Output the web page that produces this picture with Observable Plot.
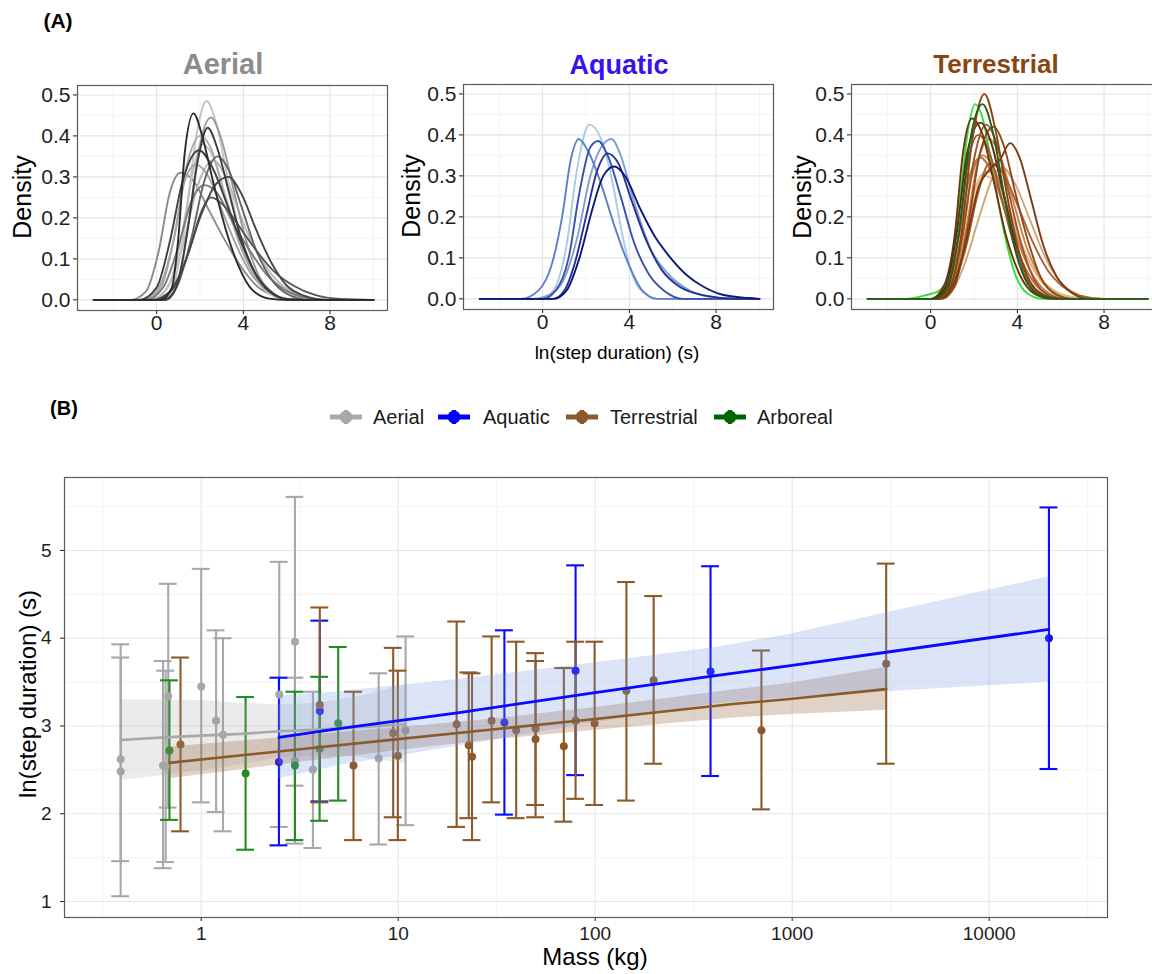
<!DOCTYPE html>
<html><head><meta charset="utf-8">
<script src="https://cdn.jsdelivr.net/npm/d3@7"></script>
<script src="https://cdn.jsdelivr.net/npm/@observablehq/plot@0.6"></script>
<style>
html,body{margin:0;padding:0;background:#fff;overflow:hidden;}
#root{position:relative;width:1152px;height:974px;overflow:hidden;font-family:"Liberation Sans",Arial,sans-serif;}
.t{position:absolute;white-space:nowrap;line-height:1;}
</style></head><body><div id="root"></div>
<script>
// ---------------- DATA ----------------
// Panel A: density curves of ln(step duration) — [x, density] points
const densityXTicks = [0, 4, 8];
const densityXMinor = [-2, 2, 6, 10];
const densityYTicks = [0, 0.1, 0.2, 0.3, 0.4, 0.5];
const densityYMinor = [0.05, 0.15, 0.25, 0.35, 0.45];

const aerialCurves = [
  [[-2.9,0],[-1.2,0],[-0.5,0.02],[0.1,0.12],[0.6,0.26],[1.1,0.31],[1.7,0.29],[2.4,0.22],[3.1,0.15],[3.9,0.08],[4.7,0.03],[5.6,0.008],[6.6,0],[10,0]],
  [[-2.9,0],[-0.3,0],[0.5,0.03],[1.2,0.13],[1.9,0.28],[2.6,0.34],[3.2,0.3],[3.9,0.2],[4.7,0.11],[5.5,0.05],[6.4,0.015],[7.5,0],[10,0]],
  [[-2.9,0],[0.2,0],[0.8,0.04],[1.3,0.18],[1.8,0.39],[2.3,0.485],[2.8,0.42],[3.3,0.29],[3.9,0.15],[4.5,0.06],[5.2,0.015],[6,0],[10,0]],
  [[-2.9,0],[-0.2,0],[0.6,0.04],[1.2,0.17],[1.7,0.32],[2.1,0.38],[2.6,0.35],[3.2,0.25],[3.9,0.13],[4.6,0.05],[5.4,0.012],[6.3,0],[10,0]],
  [[-2.9,0],[-0.6,0],[0.2,0.03],[0.8,0.15],[1.4,0.33],[2.0,0.40],[2.5,0.37],[3.1,0.26],[3.8,0.14],[4.5,0.06],[5.3,0.015],[6.2,0],[10,0]],
  [[-2.9,0],[-0.7,0],[0.1,0.03],[0.8,0.15],[1.3,0.29],[1.8,0.33],[2.4,0.3],[3.0,0.22],[3.7,0.13],[4.4,0.06],[5.2,0.02],[6.1,0],[10,0]],
  [[-2.9,0],[0.4,0],[1.0,0.04],[1.5,0.2],[2.0,0.38],[2.5,0.445],[3.0,0.39],[3.5,0.28],[4.1,0.15],[4.7,0.06],[5.4,0.015],[6.2,0],[10,0]],
  [[-2.9,0],[-0.5,0],[0.3,0.03],[1.0,0.13],[1.6,0.24],[2.2,0.28],[2.8,0.26],[3.5,0.19],[4.3,0.12],[5.1,0.06],[5.9,0.025],[6.8,0.006],[8,0],[10,0]],
  [[-2.9,0],[0.3,0],[1.0,0.04],[1.6,0.15],[2.2,0.29],[2.8,0.35],[3.3,0.32],[3.9,0.23],[4.6,0.12],[5.3,0.05],[6.0,0.015],[7,0],[10,0]],
  [[-2.9,0],[0,0],[0.8,0.03],[1.5,0.12],[2.1,0.22],[2.5,0.25],[3.1,0.23],[3.8,0.18],[4.6,0.12],[5.4,0.07],[6.3,0.035],[7.3,0.012],[8.5,0.002],[10,0]],
  [[-2.9,0],[-0.8,0],[0,0.03],[0.6,0.14],[1.2,0.29],[1.95,0.365],[2.6,0.32],[3.2,0.24],[3.9,0.14],[4.6,0.06],[5.4,0.015],[6.2,0],[10,0]],
  [[-2.9,0],[-0.2,0],[0.6,0.02],[1.3,0.09],[2.0,0.2],[2.7,0.28],[3.3,0.30],[3.9,0.26],[4.6,0.17],[5.3,0.09],[6.0,0.035],[6.8,0.01],[7.8,0],[10,0]],
  [[-2.9,0],[0.4,0],[0.9,0.03],[1.4,0.16],[1.9,0.34],[2.35,0.42],[2.8,0.37],[3.3,0.27],[3.9,0.15],[4.5,0.07],[5.2,0.02],[6,0.002],[7,0],[10,0]],
  [[-2.9,0],[0.2,0],[0.7,0.03],[1.0,0.15],[1.3,0.36],[1.7,0.455],[2.1,0.4],[2.6,0.29],[3.2,0.17],[3.8,0.08],[4.4,0.025],[5.2,0.003],[6,0],[10,0]]
];
const aerialShades = ["#8a8a8a","#b8b8b8","#c4c4c4","#bdbdbd","#ababab","#a3a3a3","#9a9a9a","#7a7a7a","#666666","#555555","#404040","#474747","#3c3c3c","#2b2b2b"];

const aquaticCurves = [
  [[-2.9,0],[0,0],[0.6,0.03],[1.1,0.13],[1.6,0.32],[2.15,0.425],[2.7,0.39],[3.2,0.29],[3.7,0.15],[4.2,0.05],[4.8,0.01],[5.3,0],[10,0]],
  [[-2.9,0],[-0.5,0],[0.3,0.01],[1.0,0.05],[1.6,0.15],[2.2,0.3],[2.7,0.37],[3.18,0.39],[3.6,0.35],[4.2,0.24],[5.0,0.12],[5.8,0.06],[6.8,0.02],[8,0.003],[10,0]],
  [[-2.9,0],[-1,0],[-0.2,0.02],[0.4,0.08],[0.9,0.2],[1.3,0.34],[1.67,0.39],[2.1,0.36],[2.7,0.28],[3.3,0.18],[4,0.08],[4.6,0.02],[5.3,0],[10,0]],
  [[-2.9,0],[0,0],[0.6,0.02],[1.2,0.1],[1.7,0.26],[2.2,0.37],[2.56,0.385],[3,0.35],[3.6,0.25],[4.2,0.14],[4.9,0.06],[5.6,0.02],[6.5,0],[10,0]],
  [[-2.9,0],[0.5,0],[1,0.02],[1.5,0.09],[2,0.2],[2.5,0.31],[3,0.355],[3.5,0.33],[4.1,0.24],[4.8,0.14],[5.5,0.07],[6.3,0.03],[7.5,0.008],[9,0],[10,0]],
  [[-2.9,0],[0.5,0],[1.1,0.02],[1.7,0.1],[2.3,0.22],[2.8,0.3],[3.3,0.323],[3.8,0.3],[4.5,0.22],[5.2,0.15],[5.9,0.1],[6.6,0.06],[7.4,0.03],[8.3,0.01],[9.5,0.002],[10,0]]
];
const aquaticShades = ["#a8cbe6","#7f9fd3","#5d80c8","#3d4fae","#262f96","#0d1a7a"];

const terrestrialCurves = [
  [[-2.9,0],[-1.2,0],[-0.3,0.008],[0.4,0.02],[0.9,0.07],[1.4,0.27],[1.75,0.42],[2.06,0.475],[2.4,0.44],[2.9,0.3],[3.4,0.16],[3.9,0.06],[4.5,0.012],[5.2,0],[10,0]],
  [[-2.9,0],[0.2,0],[0.9,0.03],[1.5,0.12],[2.0,0.24],[2.45,0.30],[2.9,0.29],[3.5,0.22],[4.2,0.13],[4.9,0.06],[5.7,0.02],[6.6,0.004],[7.5,0],[10,0]],
  [[-2.9,0],[0.3,0],[0.9,0.03],[1.5,0.13],[2.0,0.26],[2.56,0.31],[3.1,0.29],[3.7,0.21],[4.3,0.12],[5.0,0.05],[5.7,0.015],[6.5,0],[10,0]],
  [[-2.9,0],[0.4,0],[1.0,0.02],[1.6,0.09],[2.3,0.21],[2.9,0.3],[3.33,0.32],[3.9,0.28],[4.6,0.19],[5.3,0.1],[6.0,0.04],[6.8,0.01],[7.6,0],[10,0]],
  [[-2.9,0],[0.4,0],[1.0,0.03],[1.6,0.16],[2.2,0.34],[2.7,0.39],[3.2,0.35],[3.8,0.24],[4.4,0.13],[5.1,0.05],[5.8,0.012],[6.6,0],[10,0]],
  [[-2.9,0],[0.2,0],[0.8,0.03],[1.4,0.15],[1.9,0.3],[2.4,0.35],[2.9,0.32],[3.5,0.23],[4.1,0.13],[4.8,0.05],[5.5,0.012],[6.3,0],[10,0]],
  [[-2.9,0],[0.1,0],[0.7,0.03],[1.3,0.15],[1.8,0.3],[2.3,0.345],[2.8,0.31],[3.4,0.22],[4.0,0.12],[4.7,0.045],[5.4,0.01],[6.2,0],[10,0]],
  [[-2.9,0],[0.3,0],[1.0,0.03],[1.6,0.12],[2.2,0.26],[2.7,0.33],[3.3,0.31],[4.0,0.23],[4.7,0.14],[5.4,0.07],[6.1,0.03],[6.9,0.008],[8,0],[10,0]],
  [[-2.9,0],[0.3,0],[0.9,0.03],[1.5,0.16],[2.0,0.34],[2.56,0.425],[3.1,0.37],[3.6,0.26],[4.2,0.13],[4.8,0.045],[5.5,0.008],[6.2,0],[10,0]],
  [[-2.9,0],[0.2,0],[0.8,0.03],[1.3,0.16],[1.75,0.34],[2.2,0.40],[2.7,0.36],[3.2,0.26],[3.8,0.14],[4.4,0.05],[5.1,0.01],[5.9,0],[10,0]],
  [[-2.9,0],[0.5,0],[1.1,0.03],[1.7,0.17],[2.3,0.36],[2.9,0.42],[3.4,0.37],[3.9,0.26],[4.5,0.14],[5.1,0.05],[5.8,0.01],[6.6,0],[10,0]],
  [[-2.9,0],[0,0],[0.6,0.03],[1.1,0.15],[1.5,0.36],[1.9,0.44],[2.4,0.4],[2.9,0.29],[3.5,0.15],[4.1,0.06],[4.8,0.012],[5.6,0],[10,0]],
  [[-2.9,0],[0.1,0],[0.7,0.03],[1.2,0.16],[1.7,0.36],[2.3,0.43],[2.8,0.38],[3.3,0.27],[3.9,0.14],[4.5,0.05],[5.2,0.01],[6,0],[10,0]],
  [[-2.9,0],[0.4,0],[1.0,0.03],[1.6,0.13],[2.2,0.27],[2.8,0.32],[3.2,0.34],[3.67,0.38],[4.1,0.345],[4.6,0.25],[5.2,0.13],[5.8,0.055],[6.5,0.015],[7.3,0],[10,0]],
  [[-2.9,0],[0.3,0],[0.9,0.03],[1.4,0.15],[1.9,0.38],[2.48,0.50],[3.0,0.41],[3.5,0.26],[4.0,0.13],[4.6,0.04],[5.3,0.006],[6,0],[10,0]],
  [[-2.9,0],[0.2,0],[0.8,0.03],[1.3,0.16],[1.8,0.38],[2.4,0.475],[2.9,0.4],[3.4,0.25],[3.9,0.12],[4.5,0.035],[5.2,0.005],[6,0],[10,0]]
];
const terrestrialShades = ["#33dd33","#e3b98a","#deb887","#d4a373","#cd853f","#c17f4a","#b87333","#a86236","#a0522d","#9c5a2a","#8b4a1c","#6e3510","#5c2e0e","#7a3a12","#8b4513","#1f5f1f"];

// Panel B: [mass (kg), mean ln(step duration), lower, upper]
const aerialPts = [
  [0.39,2.48,1.06,3.93],[0.39,2.62,1.46,3.78],[0.64,2.55,1.38,3.74],[0.66,2.54,1.45,3.63],
  [0.68,3.34,2.07,4.62],[1.0,3.45,2.13,4.79],[1.19,3.06,2.02,4.09],[1.29,2.90,1.80,4.00],
  [2.49,3.36,1.85,4.87],[2.99,3.96,2.32,5.61],[2.99,2.60,1.66,3.55],[3.69,2.50,1.61,3.39],
  [7.96,2.63,1.65,3.60],[10.9,2.95,1.87,4.02]
];
const aquaticPts = [
  [2.48,2.59,1.64,3.55],[4.0,3.17,2.14,4.20],[34.6,3.04,1.99,4.09],
  [79.5,3.63,2.44,4.83],[385,3.62,2.43,4.82],[20100,4.00,2.51,5.49]
];
const terrestrialPts = [
  [0.785,2.79,1.80,3.78],[4.0,3.24,2.13,4.35],[5.93,2.55,1.70,3.39],[9.43,2.92,1.96,3.89],
  [9.96,2.66,1.70,3.63],[19.8,3.02,1.85,4.19],[22.8,2.78,1.95,3.61],[23.7,2.65,1.70,3.60],
  [29.8,3.06,2.13,4.02],[39.7,2.95,1.95,3.96],[49.8,2.97,2.10,3.83],[49.8,2.85,1.96,3.74],
  [69.3,2.77,1.91,3.66],[79.5,3.06,2.17,3.96],[99.3,3.03,2.10,3.96],[144,3.40,2.15,4.64],
  [198,3.52,2.57,4.48],[698,2.95,2.05,3.86],[3000,3.71,2.57,4.85]
];
const arborealPts = [
  [0.69,2.72,1.93,3.52],[1.68,2.46,1.59,3.33],[2.99,2.55,1.70,3.39],[3.99,2.74,1.92,3.56],[4.96,3.03,2.15,3.90]
];

// fitted lines with confidence band: [mass, fit, lower, upper]
const aerialFit = [
  [0.39,2.84,2.38,3.30],[0.65,2.87,2.44,3.30],[1,2.89,2.49,3.29],[1.6,2.91,2.56,3.26],
  [2.5,2.94,2.64,3.24],[4,2.96,2.66,3.26],[6.5,2.99,2.64,3.34],[10.9,3.02,2.57,3.47]
];
const aquaticFit = [
  [2.48,2.87,2.40,3.34],[5,2.97,2.55,3.39],[20,3.15,2.77,3.53],[100,3.38,3.04,3.72],
  [400,3.57,3.25,3.89],[1000,3.69,3.33,4.05],[3000,3.84,3.39,4.29],[20100,4.10,3.50,4.70]
];
const terrestrialFit = [
  [0.69,2.58,2.40,2.76],[3,2.73,2.58,2.88],[10,2.85,2.72,2.98],[30,2.96,2.84,3.08],
  [100,3.08,2.95,3.21],[500,3.25,3.09,3.41],[1000,3.31,3.13,3.49],[3000,3.42,3.18,3.67]
];

const massTicks = [1, 10, 100, 1000, 10000];
const massMinor = [0.316, 3.16, 31.6, 316, 3162, 31623];
const stepTicks = [1, 2, 3, 4, 5];
const stepMinor = [1.5, 2.5, 3.5, 4.5, 5.5];

const legendLabels = ["Aerial", "Aquatic", "Terrestrial", "Arboreal"];
const groupColors = ["#a8a8a8", "#0a0aff", "#8b5a2b", "#228b22"];
const legendColors = ["#a8a8a8", "#0000ff", "#8b5a2b", "#006400"];

// ---------------- DRAWING ----------------
const root = document.getElementById("root");
const FONT = "'Liberation Sans', Arial, sans-serif";

function addText(txt, x, y, o = {}) {
  const d = document.createElement("div");
  d.className = "t";
  d.textContent = txt;
  d.style.left = x + "px";
  d.style.top = y + "px";
  d.style.fontSize = (o.size || 16) + "px";
  d.style.fontWeight = o.weight || "normal";
  d.style.color = o.color || "#000";
  d.style.fontFamily = FONT;
  const tr = o.anchor === "start" ? "translate(0,-50%)" : "translate(-50%,-50%)";
  d.style.transform = tr + (o.rotate ? " rotate(-90deg)" : "");
  root.appendChild(d);
  return d;
}

function place(svg, left, top) {
  svg.style.position = "absolute";
  svg.style.left = left + "px";
  svg.style.top = top + "px";
  root.appendChild(svg);
}

function densityPanel(curves, shades, left, top) {
  const marks = [
    Plot.ruleX(densityXMinor, {stroke: "#f1f1f1", strokeWidth: 0.8}),
    Plot.ruleY(densityYMinor, {stroke: "#f1f1f1", strokeWidth: 0.8}),
    Plot.ruleX(densityXTicks, {stroke: "#e4e4e4", strokeWidth: 1.1}),
    Plot.ruleY(densityYTicks, {stroke: "#e4e4e4", strokeWidth: 1.1}),
    ...curves.map((c, i) => Plot.line(c, {x: d => d[0], y: d => d[1], stroke: shades[i], strokeWidth: 1.9, curve: "monotone-x"})),
    Plot.frame({stroke: "#5a5a5a", strokeWidth: 1.2})
  ];
  const svg = Plot.plot({
    width: 390, height: 300,
    marginLeft: 77, marginRight: 3, marginTop: 45, marginBottom: 30,
    x: {domain: [-3.65, 10.65], ticks: densityXTicks, tickSize: 4, tickPadding: 1, label: null},
    y: {domain: [-0.026, 0.523], ticks: densityYTicks, tickSize: 4, tickPadding: 3, tickFormat: d3.format(".1f"), label: null},
    style: {fontSize: "21px", fontFamily: FONT, color: "#1e1e1e", background: "transparent", overflow: "visible"},
    marks
  });
  place(svg, left, top);
}

densityPanel(aerialCurves, aerialShades, 0, 40);
densityPanel(aquaticCurves, aquaticShades, 386, 39);
densityPanel(terrestrialCurves, terrestrialShades, 774, 39);

addText("(A)", 58, 20, {size: 21, weight: "bold"});
addText("Aerial", 223, 64, {size: 29, weight: "bold", color: "#8c8c8c"});
addText("Aquatic", 619, 65, {size: 27, weight: "bold", color: "#3a10f0"});
addText("Terrestrial", 996, 64, {size: 26, weight: "bold", color: "#8b4513"});
addText("Density", 22, 197, {size: 25, rotate: true});
addText("Density", 411, 196, {size: 25, rotate: true});
addText("Density", 802, 197, {size: 25, rotate: true});
addText("ln(step duration) (s)", 617, 352, {size: 19});

// Panel B
addText("(B)", 64, 408, {size: 20, weight: "bold"});

// legend
const keyX = [346, 454, 582, 730];
const labX = [373, 483, 610, 757];
legendLabels.forEach((lab, i) => {
  const ns = "http://www.w3.org/2000/svg";
  const s = document.createElementNS(ns, "svg");
  s.setAttribute("width", 36); s.setAttribute("height", 20);
  s.style.position = "absolute";
  s.style.left = (keyX[i] - 18) + "px";
  s.style.top = (417 - 10) + "px";
  const c = legendColors[i];
  s.innerHTML = `<line x1="2" x2="34" y1="10" y2="10" stroke="${c}" stroke-width="5"/>
    <line x1="18" x2="18" y1="3" y2="17" stroke="${c}" stroke-width="4"/>
    <circle cx="18" cy="10" r="6.5" fill="${c}"/>`;
  root.appendChild(s);
  addText(lab, labX[i], 417, {size: 20, anchor: "start", color: "#1a1a1a"});
});

const capF = 1.11;
const groupsPts = [aerialPts, aquaticPts, terrestrialPts, arborealPts];
const bMarks = [
  Plot.ruleX(massMinor, {stroke: "#f1f1f1", strokeWidth: 0.8}),
  Plot.ruleY(stepMinor, {stroke: "#f1f1f1", strokeWidth: 0.8}),
  Plot.ruleX(massTicks, {stroke: "#e6e6e6", strokeWidth: 1.1}),
  Plot.ruleY(stepTicks, {stroke: "#e6e6e6", strokeWidth: 1.1})
];
groupsPts.forEach((pts, i) => {
  const c = groupColors[i];
  bMarks.push(
    Plot.ruleX(pts, {x: d => d[0], y1: d => d[2], y2: d => d[3], stroke: c, strokeWidth: 2.1}),
    Plot.ruleY(pts, {y: d => d[3], x1: d => d[0] / capF, x2: d => d[0] * capF, stroke: c, strokeWidth: 2.1}),
    Plot.ruleY(pts, {y: d => d[2], x1: d => d[0] / capF, x2: d => d[0] * capF, stroke: c, strokeWidth: 2.1})
  );
});
groupsPts.forEach((pts, i) => {
  bMarks.push(Plot.dot(pts, {x: d => d[0], y: d => d[1], r: 4, fill: groupColors[i], stroke: "none"}));
});
bMarks.push(
  Plot.areaY(aerialFit, {x: d => d[0], y1: d => d[2], y2: d => d[3], fill: "#9a9a9a", fillOpacity: 0.2}),
  Plot.areaY(terrestrialFit, {x: d => d[0], y1: d => d[2], y2: d => d[3], fill: "#9a6a45", fillOpacity: 0.3}),
  Plot.areaY(aquaticFit, {x: d => d[0], y1: d => d[2], y2: d => d[3], fill: "#6f97df", fillOpacity: 0.25}),
  Plot.line(aerialFit, {x: d => d[0], y: d => d[1], stroke: "#a8a8a8", strokeWidth: 2.6}),
  Plot.line(terrestrialFit, {x: d => d[0], y: d => d[1], stroke: "#8b5a2b", strokeWidth: 2.6}),
  Plot.line(aquaticFit, {x: d => d[0], y: d => d[1], stroke: "#0a0aff", strokeWidth: 2.8}),
  Plot.frame({stroke: "#5a5a5a", strokeWidth: 1.2})
);

const bSvg = Plot.plot({
  width: 1152, height: 534,
  marginLeft: 64, marginRight: 45, marginTop: 37, marginBottom: 57,
  x: {type: "log", domain: [0.2023, 39860], ticks: massTicks, tickFormat: d => String(d), tickSize: 4, tickPadding: 5, label: null},
  y: {domain: [0.818, 5.831], ticks: stepTicks, tickSize: 4, tickPadding: 9, tickFormat: d => String(d), label: null},
  style: {fontSize: "19px", fontFamily: FONT, color: "#1e1e1e", background: "transparent", overflow: "visible"},
  marks: bMarks
});
place(bSvg, 0, 440);

addText("ln(step duration) (s)", 28, 694, {size: 24, rotate: true});
addText("Mass (kg)", 595, 957, {size: 24});
</script></body></html>
